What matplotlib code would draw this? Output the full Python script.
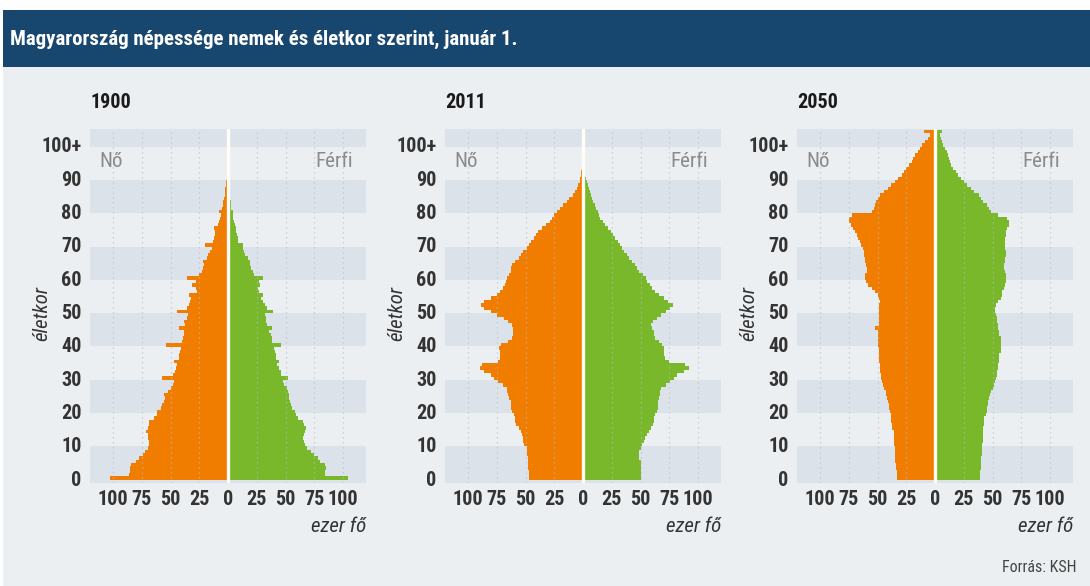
import os
import matplotlib
matplotlib.use("Agg")
import matplotlib.pyplot as plt
import matplotlib.font_manager as fm
from matplotlib.patches import Rectangle
import numpy as np

# data (ezer fő), one value per year of age
years = ["1900", "2011", "2050"]

f_1900 = [103, 86, 85, 85, 84, 80, 77, 74, 72, 70,
          69, 69, 70, 70, 71, 70, 69, 69, 64, 62,
          62, 58, 57, 56, 55, 56, 52, 50, 48, 47,
          57, 48, 46, 45, 44, 47, 43, 43, 42, 41,
          54, 40, 39, 38, 38, 43, 37, 38, 36, 35,
          44, 36, 34, 33, 32, 34, 27, 28, 31, 28,
          36, 25, 23, 22, 21, 22, 18, 17, 16, 14,
          20, 13, 12, 11, 11, 12, 9, 8, 7, 6,
          8, 5, 4, 4, 3.5, 3, 3, 2.5, 2, 1.5,
          1.2]
m_1900 = [104, 84, 84, 85, 84, 80, 78, 75, 72, 69,
          67, 66, 65, 66, 67, 68, 66, 65, 61, 59,
          58, 56, 55, 54, 53, 53, 52, 51, 49, 48,
          52, 46, 46, 44, 43, 44, 42, 42, 41, 40,
          46, 38, 38, 37, 36, 38, 34, 33, 33, 32,
          39, 34, 32, 30, 29, 30, 27, 26, 28, 27,
          30, 23, 22, 20, 19, 19, 17, 15, 14, 13,
          13, 9, 8.5, 8, 7, 7, 6, 5, 4.5, 4,
          4, 3, 2.5, 2.5, 2, 1.8, 1.5, 1.2, 1, 0.8,
          0.6]

f_2011 = [47, 47, 47, 48, 48, 48, 48, 49, 49, 49,
          51, 52, 52, 53, 54, 56, 58, 59, 59, 60,
          62, 63, 63, 63, 64, 65, 66, 66, 70, 74,
          77, 80, 86, 90, 88, 74, 72, 72, 72, 73,
          71, 65, 62, 61, 61, 61, 62, 65, 69, 75,
          80, 86, 89, 86, 80, 75, 72, 70, 68, 67,
          66, 64, 63, 63, 62, 59, 56, 54, 52, 49,
          47, 45, 43, 41, 39, 36, 32, 29, 27, 25,
          23, 20, 17, 14, 12, 9, 7, 5, 4, 3,
          2.5, 2, 1.5]
m_2011 = [50, 50, 50, 50, 50, 50, 49, 49, 49, 50,
          51, 53, 54, 56, 57, 59, 61, 62, 62, 63,
          64, 65, 65, 65, 66, 67, 67, 68, 72, 76,
          79, 82, 88, 92, 89, 75, 71, 70, 70, 70,
          69, 66, 63, 62, 62, 60, 59, 61, 64, 68,
          72, 76, 78, 74, 70, 66, 63, 60, 58, 56,
          55, 52, 49, 47, 45, 43, 40, 38, 36, 34,
          32, 30, 28, 26, 24, 22, 19, 17, 15, 14,
          13, 11, 10, 9, 8, 7, 6, 5, 4, 3.5,
          3, 2, 1.5]

f_2050 = [33, 33, 33, 34, 34, 35, 35, 35, 35, 35,
          36, 36, 36, 36, 36, 37, 37, 38, 38, 38,
          39, 40, 40, 41, 42, 43, 43, 44, 45, 46,
          47, 47, 48, 48, 48, 49, 49, 49, 49, 49,
          50, 50, 50, 50, 50, 52, 49, 49, 49, 49,
          49, 49, 49, 48, 49, 50, 52, 55, 58, 60,
          61, 61, 59, 59, 60, 61, 61, 62, 62, 63,
          64, 65, 67, 68, 70, 71, 73, 75, 75, 72,
          55, 53, 52, 51, 50, 48, 44, 41, 38, 35,
          32, 29, 27, 25, 23, 20, 19, 17, 15, 13,
          11, 9, 6, 4, 10]
m_2050 = [39, 39, 39, 40, 40, 40, 40, 41, 41, 41,
          41, 42, 42, 42, 42, 42, 43, 43, 43, 44,
          45, 45, 46, 46, 47, 48, 49, 50, 51, 52,
          53, 54, 54, 55, 55, 56, 56, 56, 57, 57,
          57, 57, 57, 56, 56, 55, 55, 54, 54, 53,
          52, 52, 53, 55, 57, 58, 58, 60, 61, 62,
          62, 62, 61, 60, 60, 61, 61, 62, 62, 61,
          61, 61, 61, 62, 62, 63, 64, 64, 63, 55,
          49, 47, 45, 42, 40, 38, 34, 31, 28, 25,
          23, 20, 18, 16, 14, 13, 12, 11, 10, 9,
          7, 6, 5, 4, 6]

female = [f_1900, f_2011, f_2050]
male = [m_1900, m_2011, m_2050]

x_ticks = [-100, -75, -50, -25, 0, 25, 50, 75, 100]
x_labels = ["100", "75", "50", "25", "0", "25", "50", "75", "100"]
y_ticks = [0, 10, 20, 30, 40, 50, 60, 70, 80, 90, 100]
y_labels = ["0", "10", "20", "30", "40", "50", "60", "70", "80", "90", "100+"]

ORANGE = "#f07d00"
GREEN = "#78b82a"
BG = "#eceff2"
STRIPE = "#dce2ea"
NAVY = "#17476e"


def font_file(names):
    # look for a narrow face by file name, else fall back to DejaVu
    files = [f.fname for f in fm.fontManager.ttflist]
    for n in names:
        for fn in files:
            if os.path.basename(fn).lower().startswith(n.lower()):
                return fn
    return None


bold_file = font_file(["LiberationSansNarrow-Bold.", "RobotoCondensed-Bold.",
                       "DejaVuSansCondensed-Bold."])
reg_file = font_file(["LiberationSansNarrow-Regular.", "RobotoCondensed-Regular.",
                      "DejaVuSansCondensed."])
ital_file = font_file(["LiberationSansNarrow-Italic.", "RobotoCondensed-Italic.",
                       "DejaVuSansCondensed-Oblique."])


def fp(path, size, weight="normal", style="normal"):
    if path:
        return fm.FontProperties(fname=path, size=size)
    return fm.FontProperties(family="DejaVu Sans", size=size, weight=weight, style=style)


fig = plt.figure(figsize=(10.9, 5.86), dpi=100, facecolor="white")
W, H = 1090.0, 586.0

# grey page and title band
fig.patches.append(Rectangle((3 / W, 0), 1, 1 - 67 / H, transform=fig.transFigure,
                             facecolor=BG, edgecolor="none", zorder=-10))
fig.patches.append(Rectangle((3 / W, 1 - 67 / H), 1, 57 / H, transform=fig.transFigure,
                             facecolor=NAVY, edgecolor="none", zorder=-10))
fig.text(10 / W, 1 - 45 / H, "Magyarország népessége nemek és életkor szerint, január 1.",
         color="white", va="baseline", ha="left", fontproperties=fp(bold_file, 15, "bold"))

lefts = [90, 445, 797]
for i in range(3):
    ax = fig.add_axes([lefts[i] / W, 1 - 483 / H, 276 / W, 354 / H])
    ax.set_facecolor(BG)
    f = np.array(female[i], dtype=float)
    m = np.array(male[i], dtype=float)
    ages_f = np.arange(len(f))
    ages_m = np.arange(len(m))

    for lo in [-2, 19.5, 39.5, 59.5, 79.5]:
        ax.axhspan(lo, lo + 10 if lo > 0 else 9.5, color=STRIPE, lw=0, zorder=0)
    ax.axhspan(99.5, 110, color=STRIPE, lw=0, zorder=0)

    ax.barh(ages_f, -f, height=1.05, color=ORANGE, lw=0, zorder=2)
    ax.barh(ages_m, m, height=1.05, color=GREEN, lw=0, zorder=2)

    for t in x_ticks:
        if t != 0:
            ax.axvline(t, color="#b9bec6", lw=0.9, ls=(0, (1, 3)), alpha=0.8, zorder=3)
    ax.axvline(0, color="#fffdf5", lw=2.4, zorder=4)

    ax.set_xlim(-120, 120)
    ax.set_ylim(-1.5, 104.8)
    ax.set_xticks(x_ticks)
    ax.set_xticklabels(x_labels, fontproperties=fp(bold_file, 14.5, "bold"), color="#333333")
    ax.set_yticks(y_ticks)
    ax.set_yticklabels(y_labels, fontproperties=fp(bold_file, 14.5, "bold"), color="#333333")
    ax.tick_params(length=0)
    ax.tick_params(axis="x", pad=5)
    ax.tick_params(axis="y", pad=6)
    for s in ax.spines.values():
        s.set_visible(False)

    ax.text(0, 1.076, years[i], transform=ax.transAxes, ha="left", va="center",
            color="#1a1a1a", fontproperties=fp(bold_file, 14.5, "bold"))
    ax.text(-112, 95, "Nő", ha="left", va="center", color="#8a8a8a",
            fontproperties=fp(reg_file, 15))
    ax.text(109, 95, "Férfi", ha="right", va="center", color="#8a8a8a",
            fontproperties=fp(reg_file, 15))
    ax.text(-0.174, 0.48, "életkor", transform=ax.transAxes, rotation=90,
            ha="center", va="center", color="#333333",
            fontproperties=fp(ital_file, 15, style="italic"))
    ax.text(1.0, -0.124, "ezer fő", transform=ax.transAxes, ha="right", va="center",
            color="#333333", fontproperties=fp(ital_file, 15, style="italic"))

fig.text(1077 / W, 1 - 567 / H, "Forrás: KSH", ha="right", va="center", color="#444444",
         fontproperties=fp(reg_file, 11.5))

fig.savefig("out.png", dpi=100, facecolor=fig.get_facecolor())
